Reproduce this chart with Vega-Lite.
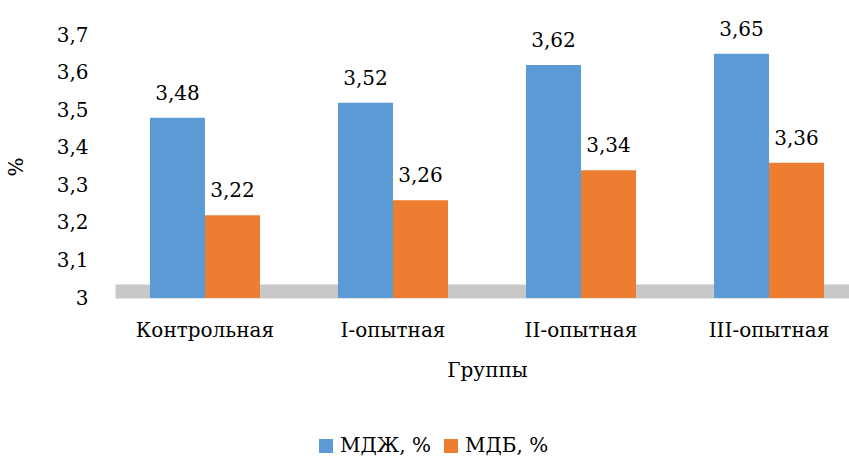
{
  "$schema": "https://vega.github.io/schema/vega-lite/v6.json",
  "autosize": {"type": "none"},
  "width": 744,
  "height": 263,
  "padding": {"left": 115, "top": 35, "right": 0, "bottom": 161},
  "background": "white",
  "config": {
    "font": "DejaVu Serif",
    "view": {"stroke": null},
    "locale": {"number": {"decimal": ",", "thousands": " ", "grouping": [3], "currency": ["", ""]}},
    "axis": {"labelFont": "DejaVu Serif", "titleFont": "DejaVu Serif"},
    "legend": {"labelFont": "DejaVu Serif"},
    "text": {"font": "DejaVu Serif"}
  },
  "data": {
    "values": [
      {"group": "Контрольная", "series": "МДЖ, %", "value": 3.48},
      {"group": "Контрольная", "series": "МДБ, %", "value": 3.22},
      {"group": "I-опытная", "series": "МДЖ, %", "value": 3.52},
      {"group": "I-опытная", "series": "МДБ, %", "value": 3.26},
      {"group": "II-опытная", "series": "МДЖ, %", "value": 3.62},
      {"group": "II-опытная", "series": "МДБ, %", "value": 3.34},
      {"group": "III-опытная", "series": "МДЖ, %", "value": 3.65},
      {"group": "III-опытная", "series": "МДБ, %", "value": 3.36}
    ]
  },
  "encoding": {
    "x": {
      "field": "group",
      "type": "nominal",
      "sort": ["Контрольная", "I-опытная", "II-опытная", "III-опытная"],
      "scale": {"paddingInner": 0.415, "paddingOuter": 0.186},
      "axis": {
        "title": "Группы",
        "labelAngle": 0,
        "labelFontSize": 20,
        "titleFontSize": 20,
        "titleFontWeight": "normal",
        "labelColor": "black",
        "titleColor": "black",
        "ticks": false,
        "offset": -7,
        "domainWidth": 14,
        "domainColor": "#c8c8c8",
        "labelPadding": 29,
        "titlePadding": 20
      }
    },
    "xOffset": {
      "field": "series",
      "type": "nominal",
      "sort": ["МДЖ, %", "МДБ, %"]
    },
    "y": {
      "field": "value",
      "type": "quantitative",
      "scale": {"domain": [3, 3.7], "zero": false},
      "axis": {
        "title": "%",
        "values": [3, 3.1, 3.2, 3.3, 3.4, 3.5, 3.6, 3.7],
        "format": "~g",
        "labelFontSize": 20,
        "titleFontSize": 20,
        "titleFontWeight": "normal",
        "labelColor": "black",
        "titleColor": "black",
        "domain": false,
        "ticks": false,
        "grid": false,
        "labelPadding": 27,
        "titlePadding": 30
      }
    }
  },
  "layer": [
    {
      "mark": {"type": "bar"},
      "encoding": {
        "y2": {"datum": 3},
        "color": {
          "field": "series",
          "type": "nominal",
          "sort": ["МДЖ, %", "МДБ, %"],
          "scale": {"range": ["#5B9BD5", "#ED7D31"]},
          "legend": {
            "title": null,
            "orient": "none",
            "direction": "horizontal",
            "legendX": 201,
            "legendY": 401,
            "symbolType": "square",
            "symbolSize": 196,
            "symbolStrokeWidth": 0,
            "labelFontSize": 20,
            "labelColor": "black",
            "columnSpacing": 26,
            "padding": 0
          }
        }
      }
    },
    {
      "mark": {"type": "text", "baseline": "bottom", "dy": -14, "fontSize": 20, "color": "black"},
      "encoding": {
        "text": {"field": "value", "type": "quantitative", "format": ".2f"}
      }
    }
  ]
}
